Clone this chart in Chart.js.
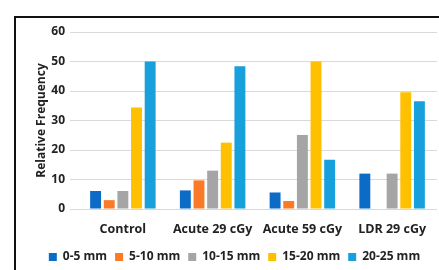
<!DOCTYPE html>
<html>
<head>
<meta charset="utf-8">
<script src="https://cdn.jsdelivr.net/npm/chart.js@4.4.0/dist/chart.umd.min.js"></script>
<style>
  html,body{margin:0;padding:0;background:#fff;overflow:hidden}
  #wrap{position:absolute;left:0;top:0;width:439px;height:270px}
  #frame{position:absolute;left:14px;top:16px;width:440px;height:270px;border-left:2px solid #111;border-top:2px solid #111;pointer-events:none}
</style>
</head>
<body>
<div id="wrap"><canvas id="c" width="439" height="270"></canvas></div>
<div id="frame"></div>
<script>
// === Data ===
const categories = ['Control','Acute 29 cGy','Acute 59 cGy','LDR 29 cGy'];
const seriesNames = ['0-5 mm','5-10 mm','10-15 mm','15-20 mm','20-25 mm'];
const s0_5   = [6.1, 6.3, 5.6, 12];
const s5_10  = [3.0, 9.7, 2.7, 0];
const s10_15 = [6.1, 13, 25.1, 12];
const s15_20 = [34.4, 22.5, 50, 39.6];
const s20_25 = [50, 48.4, 16.7, 36.5];
const yTicks = [0,10,20,30,40,50,60];
const colors = ['#0B6BC7','#FB7A28','#A5A5A5','#FFC000','#18A0DC'];

const values = [s0_5, s5_10, s10_15, s15_20, s20_25];
const font = {family:'"Open Sans", sans-serif', weight:'bold', size:12};

new Chart(document.getElementById('c'), {
  type:'bar',
  data:{
    labels:categories,
    datasets: values.map((v,i)=>({label:seriesNames[i], data:v, backgroundColor:colors[i],
      categoryPercentage:0.76, barPercentage:0.8}))
  },
  options:{
    responsive:false, animation:false,
    layout:{padding:{left:32,right:2,top:32,bottom:-3}},
    plugins:{
      legend:{position:'bottom', labels:{boxWidth:8, boxHeight:8, padding:8, color:'#222', font}},
      tooltip:{enabled:false}
    },
    scales:{
      x:{grid:{display:false}, border:{display:false}, ticks:{color:'#222', font:{...font,size:12.5}, padding:5},
         afterFit:sc=>{sc.height=34;}},
      y:{min:0, max:60, afterBuildTicks:ax=>{ax.ticks=yTicks.map(v=>({value:v}));},
         afterFit:sc=>{sc.width=46;},
         grid:{color:'#D9D9D9', lineWidth:1}, border:{display:false},
         ticks:{color:'#222', font, padding:5},
         title:{display:true, text:'Relative Frequency', color:'#222', font:{...font, size:12}, padding:{top:2,bottom:2}}}
    }
  }
});
</script>
</body>
</html>
